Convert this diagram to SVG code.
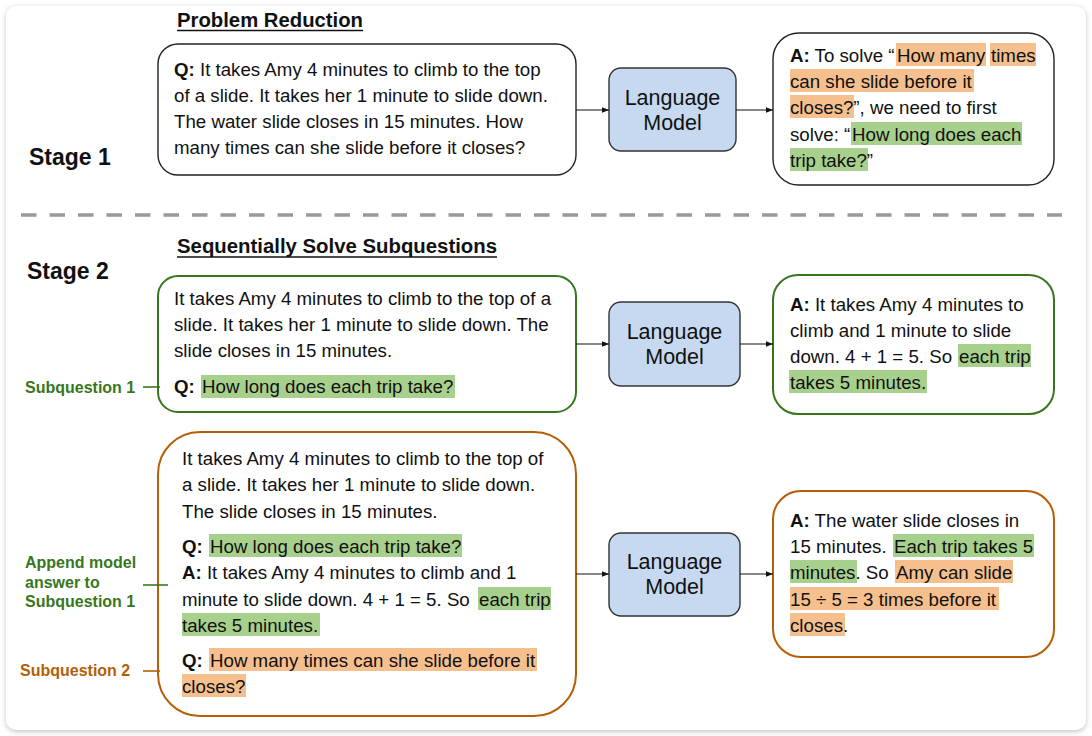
<svg xmlns="http://www.w3.org/2000/svg" width="1092" height="736" viewBox="0 0 1092 736">
<defs>
<filter id="sh" x="-5%" y="-5%" width="110%" height="110%"><feGaussianBlur stdDeviation="2.5"/></filter>
<marker id="ah" viewBox="0 0 10 10" refX="10" refY="5" markerWidth="7" markerHeight="7" markerUnits="userSpaceOnUse" orient="auto"><path d="M0,1 L10,5 L0,9 z" fill="#111"/></marker>
<style>
text{font-family:"Liberation Sans",Arial,sans-serif;fill:#111}
.b{font-size:18.7px}
.bold{font-weight:bold}
.h{font-size:20px;font-weight:bold}
.st{font-size:23px;font-weight:bold}
.lm{font-size:21.5px;text-anchor:middle}
.lbg{font-size:16px;font-weight:bold;fill:#38761d}
.lbo{font-size:16px;font-weight:bold;fill:#b45f06}
.box{fill:#fff;stroke:#222;stroke-width:1.4}
.gbox{fill:#fff;stroke:#38761d;stroke-width:2}
.obox{fill:#fff;stroke:#b45f06;stroke-width:2}
.lmbox{fill:#c6d9f0;stroke:#333;stroke-width:1.4}
.hg{fill:#a8d08d}
.ho{fill:#f6bf8e}
.arr{stroke:#111;stroke-width:1.2;fill:none;marker-end:url(#ah)}
</style>
</defs>
<rect x="0" y="0" width="1092" height="736" fill="#fff"/>
<rect x="6" y="7" width="1080" height="725" rx="10" fill="#c8c8c8" filter="url(#sh)"/>
<rect x="6" y="6" width="1080" height="724" rx="10" fill="#fff"/>

<g id="headers">
<text class="h" x="177" y="27" textLength="186" lengthAdjust="spacingAndGlyphs">Problem Reduction</text>
<line x1="177" y1="30.5" x2="363" y2="30.5" stroke="#111" stroke-width="1.6"/>
<text class="st" x="29" y="165">Stage 1</text>
<line x1="21" y1="215" x2="1062" y2="215" stroke="#999" stroke-width="3.5" stroke-dasharray="15.5 13"/>
<text class="h" x="177" y="253" textLength="320" lengthAdjust="spacingAndGlyphs">Sequentially Solve Subquestions</text>
<line x1="177" y1="257" x2="497" y2="257" stroke="#111" stroke-width="1.6"/>
<text class="st" x="27" y="279">Stage 2</text>
</g>

<g id="s1-question">
<rect class="box" x="158" y="44" width="418" height="131" rx="20"/>
<text class="b" x="174" y="76"><tspan class="bold">Q:</tspan> It takes Amy 4 minutes to climb to the top</text>
<text class="b" x="174" y="102">of a slide. It takes her 1 minute to slide down.</text>
<text class="b" x="174" y="128">The water slide closes in 15 minutes. How</text>
<text class="b" x="174" y="154">many times can she slide before it closes?</text>
</g>

<g id="s1-lm">
<rect class="lmbox" x="609" y="68" width="127" height="83" rx="12"/>
<text class="lm" x="672.5" y="105">Language</text>
<text class="lm" x="672.5" y="130">Model</text>
</g>

<g id="s1-answer">
<rect class="box" x="773" y="33" width="281" height="152" rx="26"/>
<rect class="ho" x="896" y="43" width="90" height="23"/>
<rect class="ho" x="990" y="43" width="46" height="23"/>
<rect class="ho" x="790" y="69" width="184" height="23"/>
<rect class="ho" x="790" y="95" width="64" height="23"/>
<rect class="hg" x="851" y="122" width="171" height="23"/>
<rect class="hg" x="790" y="148" width="78" height="23"/>
<text class="b" x="790" y="62"><tspan class="bold">A:</tspan> To solve “<tspan x="897">How many</tspan> <tspan x="991">times</tspan></text>
<text class="b" x="790" y="88">can she slide before it</text>
<text class="b" x="790" y="114">closes?”, we need to first</text>
<text class="b" x="790" y="141">solve: “<tspan x="852">How long does each</tspan></text>
<text class="b" x="790" y="167">trip take?”</text>
</g>

<g id="s2-q1">
<rect class="gbox" x="158" y="276" width="418" height="136" rx="20"/>
<rect class="hg" x="201" y="375" width="254" height="23"/>
<text class="b" x="174" y="305">It takes Amy 4 minutes to climb to the top of a</text>
<text class="b" x="174" y="331">slide. It takes her 1 minute to slide down. The</text>
<text class="b" x="174" y="357">slide closes in 15 minutes.</text>
<text class="b" x="174" y="393"><tspan class="bold">Q:</tspan> <tspan x="202">How long does each trip take?</tspan></text>
</g>

<g id="s2-lm1">
<rect class="lmbox" x="609" y="302" width="131" height="84" rx="12"/>
<text class="lm" x="674.5" y="339">Language</text>
<text class="lm" x="674.5" y="364">Model</text>
</g>

<g id="s2-a1">
<rect class="gbox" x="773" y="275" width="281" height="139" rx="25"/>
<rect class="hg" x="958" y="344" width="73" height="23"/>
<rect class="hg" x="789" y="370" width="138" height="23"/>
<text class="b" x="790" y="311"><tspan class="bold">A:</tspan> It takes Amy 4 minutes to</text>
<text class="b" x="790" y="337">climb and 1 minute to slide</text>
<text class="b" x="790" y="363">down. 4 + 1 = 5. So <tspan x="959">each trip</tspan></text>
<text class="b" x="790" y="389">takes 5 minutes.</text>
</g>

<g id="s2-q2">
<rect class="obox" x="158" y="432" width="418" height="284" rx="42"/>
<rect class="hg" x="209" y="534" width="253" height="23"/>
<rect class="hg" x="478" y="587" width="73" height="23"/>
<rect class="hg" x="182" y="613" width="138" height="23"/>
<rect class="ho" x="209" y="648" width="328" height="23"/>
<rect class="ho" x="182" y="674" width="64" height="23"/>
<text class="b" x="182" y="465">It takes Amy 4 minutes to climb to the top of</text>
<text class="b" x="182" y="491">a slide. It takes her 1 minute to slide down.</text>
<text class="b" x="182" y="518">The slide closes in 15 minutes.</text>
<text class="b" x="182" y="553"><tspan class="bold">Q:</tspan> <tspan x="210">How long does each trip take?</tspan></text>
<text class="b" x="182" y="579"><tspan class="bold">A:</tspan> It takes Amy 4 minutes to climb and 1</text>
<text class="b" x="182" y="606">minute to slide down. 4 + 1 = 5. So <tspan x="479">each trip</tspan></text>
<text class="b" x="182" y="632">takes 5 minutes.</text>
<text class="b" x="182" y="667"><tspan class="bold">Q:</tspan> <tspan x="210">How many times can she slide before it</tspan></text>
<text class="b" x="182" y="693">closes?</text>
</g>

<g id="s2-lm2">
<rect class="lmbox" x="609" y="533" width="131" height="83" rx="12"/>
<text class="lm" x="674.5" y="569">Language</text>
<text class="lm" x="674.5" y="594">Model</text>
</g>

<g id="s2-a2">
<rect class="obox" x="773" y="491" width="281" height="166" rx="28"/>
<rect class="hg" x="893" y="534" width="141" height="23"/>
<rect class="hg" x="790" y="560" width="67" height="23"/>
<rect class="ho" x="895" y="560" width="118" height="23"/>
<rect class="ho" x="790" y="587" width="209" height="23"/>
<rect class="ho" x="790" y="613" width="55" height="23"/>
<text class="b" x="790" y="527"><tspan class="bold">A:</tspan> The water slide closes in</text>
<text class="b" x="790" y="553">15 minutes. <tspan x="894">Each trip takes 5</tspan></text>
<text class="b" x="790" y="579">minutes. So <tspan x="896">Amy can slide</tspan></text>
<text class="b" x="790" y="606">15 ÷ 5 = 3 times before it</text>
<text class="b" x="790" y="632">closes.</text>
</g>

<g id="label-sub1">
<text class="lbg" x="25" y="393">Subquestion 1</text>
</g>
<g id="label-append">
<text class="lbg" x="25" y="568">Append model</text>
<text class="lbg" x="25" y="588">answer to</text>
<text class="lbg" x="25" y="607">Subquestion 1</text>
</g>
<g id="label-sub2">
<text class="lbo" x="20" y="676">Subquestion 2</text>
</g>

<g id="connectors">
<line class="arr" x1="576" y1="110" x2="609" y2="110"/>
<line class="arr" x1="736" y1="110" x2="773" y2="110"/>
<line class="arr" x1="576" y1="344" x2="609" y2="344"/>
<line class="arr" x1="740" y1="344" x2="773" y2="344"/>
<line class="arr" x1="576" y1="574" x2="609" y2="574"/>
<line class="arr" x1="740" y1="574" x2="773" y2="574"/>
<line x1="143" y1="387" x2="160" y2="387" stroke="#38761d" stroke-width="1.6"/>
<line x1="143" y1="585" x2="168" y2="585" stroke="#38761d" stroke-width="1.6"/>
<line x1="143" y1="671" x2="160" y2="671" stroke="#b45f06" stroke-width="1.6"/>
</g>
</svg>
